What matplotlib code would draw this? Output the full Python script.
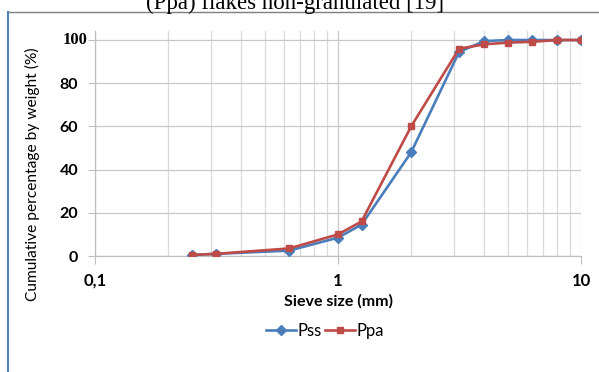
import matplotlib
matplotlib.use("Agg")
import matplotlib.pyplot as plt
import matplotlib.transforms as mtrans
from matplotlib.lines import Line2D
from matplotlib.ticker import FixedLocator, NullFormatter

sieve_mm = [0.25, 0.315, 0.63, 1.0, 1.25, 2.0, 3.15, 4.0, 5.0, 6.3, 8.0, 10.0]
pss = [0.5, 1.0, 2.5, 8.5, 14.5, 48.0, 94.5, 99.5, 100.0, 100.0, 100.0, 100.0]
ppa = [0.5, 1.0, 3.5, 10.0, 16.0, 60.0, 96.0, 98.0, 98.8, 99.2, 100.0, 100.0]
x_ticks = [0.1, 1, 10]
x_ticklabels = ["0,1", "1", "10"]
y_ticks = [0, 20, 40, 60, 80, 100]
y_ticklabels = ["0", "20", "40", "60", "80", "100"]

W, H = 599, 372
fig = plt.figure(figsize=(W / 100, H / 100), dpi=100)
left, right = 95 / W, 581 / W
bottom = 1 - 256 / H
top = 1 - 31.4 / H
ax = fig.add_axes([left, bottom, right - left, top - bottom])

ax.set_xscale("log")
ax.set_xlim(0.1, 10)
ax.set_ylim(0, 104)

minor = [m * d for d in (0.1, 1) for m in range(2, 10)]
ax.xaxis.set_major_locator(FixedLocator(x_ticks))
ax.xaxis.set_minor_locator(FixedLocator(minor))
ax.xaxis.set_minor_formatter(NullFormatter())
ax.set_xticklabels(x_ticklabels, fontfamily="Lato", fontweight="bold", fontsize=12)
ax.set_yticks(y_ticks)
# the top label is drawn separately (different font and position in the original)
ax.set_yticklabels([t if t != "100" else "" for t in y_ticklabels],
                   fontfamily="Lato", fontweight="bold", fontsize=11.5)
off = mtrans.ScaledTranslation(-7 / 100, 0, fig.dpi_scale_trans)
ax.text(0, y_ticks[-1], y_ticklabels[-1],
        transform=ax.get_yaxis_transform() + off, ha="right", va="center",
        fontfamily="Liberation Serif", fontweight="bold", fontsize=12)

ax.grid(True, which="major", axis="both", color="#c8c8c8", lw=0.9)
ax.grid(True, which="minor", axis="x", color="#d9d9d9", lw=0.9)
ax.tick_params(axis="x", which="major", length=6, color="#bfbfbf", pad=6)
ax.tick_params(axis="x", which="minor", length=0)
ax.tick_params(axis="y", length=5, color="#bfbfbf", pad=7)
for s in ("top", "right"):
    ax.spines[s].set_visible(False)
for s in ("left", "bottom"):
    ax.spines[s].set_color("#bfbfbf")
    ax.spines[s].set_linewidth(0.9)

ax.plot(sieve_mm, pss, color="#4a7ebb", lw=1.9, marker="D", ms=5.5,
        label="Pss", zorder=3)
ax.plot(sieve_mm, ppa, color="#be4b48", lw=1.9, marker="s", ms=5,
        label="Ppa", zorder=4)

ax.set_xlabel("Sieve size (mm)", fontfamily="Lato", fontweight="bold",
              fontsize=11.5, labelpad=4)
ax.set_ylabel("Cumulative percentage by weight (%)", fontfamily="Lato",
              fontsize=11.2)
ax.yaxis.set_label_coords(-0.113, 0.364)

leg = fig.legend(loc="center", bbox_to_anchor=(325 / W, 1 - 331 / H), ncol=2,
                 frameon=False, prop={"family": "Lato", "size": 12},
                 handlelength=1.8, handletextpad=0.1, columnspacing=0.2,
                 borderaxespad=0, borderpad=0)

fig.text(295 / W, 1 - 8.5 / H, "(Ppa) flakes non-granulated [19]",
         ha="center", va="baseline", fontfamily="Liberation Serif", fontsize=16.5)
fig.add_artist(Line2D([8 / W, 1], [1 - 11.5 / H, 1 - 11.5 / H], color="#7f7f7f",
                      lw=1, transform=fig.transFigure))
fig.add_artist(Line2D([8 / W, 8 / W], [1 - 11.5 / H, 0], color="#4f81bd",
                      lw=1.5, transform=fig.transFigure))

fig.savefig("out.png", dpi=100)
